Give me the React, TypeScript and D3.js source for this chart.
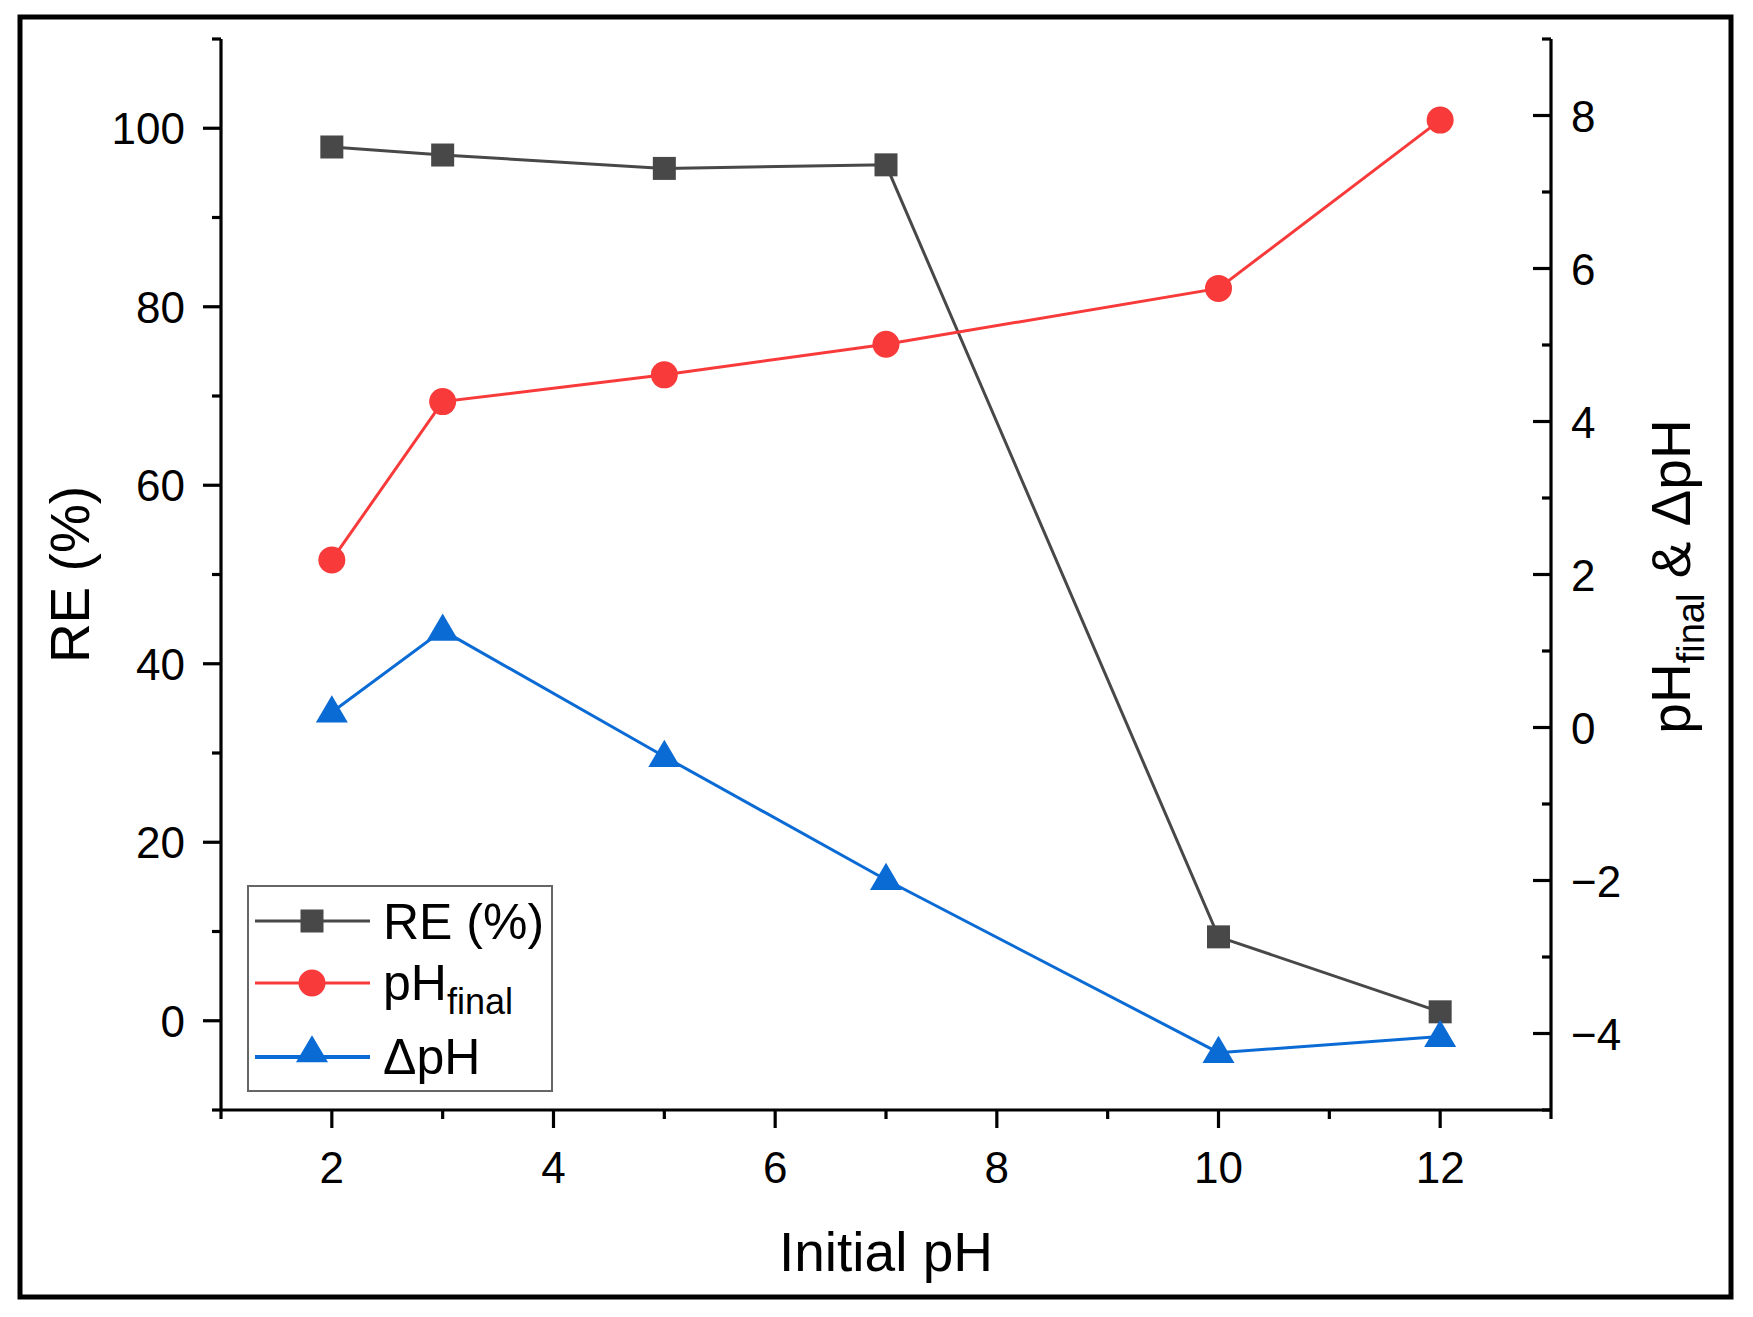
import React from "react";
import * as d3 from "d3";

const initialPH = [2, 3, 5, 7, 10, 12];
const reValues = [97.9, 97.0, 95.5, 95.9, 9.4, 1.0];
const phFinal = [2.19, 4.26, 4.61, 5.01, 5.74, 7.94];
const deltaPH = [0.2, 1.27, -0.38, -1.99, -4.25, -4.04];

const xMajor = [2, 4, 6, 8, 10, 12];
const xMinor = [1, 3, 5, 7, 9, 11, 13];
const yLeftMajor = [0, 20, 40, 60, 80, 100];
const yLeftMinor = [-10, 10, 30, 50, 70, 90, 110];
const yRightMajor = [-4, -2, 0, 2, 4, 6, 8];
const yRightMinor = [-5, -3, -1, 1, 3, 5, 7, 9];

const W = 1753;
const H = 1317;
const L = 221, R = 1551, T = 39, B = 1110;
const FONT = "'Liberation Sans', Arial, sans-serif";
const C_RE = "#484848";
const C_PH = "#f83a3a";
const C_D = "#0b6bd5";

export default function App() {
  const x = d3.scaleLinear().domain([1, 13]).range([L, R]);
  const yL = d3.scaleLinear().domain([-10, 110]).range([B, T]);
  const yR = d3.scaleLinear().domain([-5, 9]).range([B, T]);

  const lineRE = d3.line<number>().x((_, i) => x(initialPH[i])).y((d) => yL(d));
  const lineR = d3.line<number>().x((_, i) => x(initialPH[i])).y((d) => yR(d));

  const sq = 23;
  const tri = (cx: number, cy: number, s = 32) => {
    const h = s * 0.85;
    return `M${cx},${cy - h * 0.62} L${cx + s / 2},${cy + h * 0.38} L${cx - s / 2},${cy + h * 0.38} Z`;
  };

  const majLen = 18, minLen = 9, axW = 3.2;

  return (
    <svg width={W} height={H} style={{ position: "absolute", left: 0, top: 0, background: "#fff" }} fontFamily={FONT}>
      <rect x={0} y={0} width={W} height={H} fill="#fff" />
      <rect x={20} y={17} width={1711} height={1280} fill="none" stroke="#000" strokeWidth={5} />

      <line x1={L} x2={L} y1={T} y2={B} stroke="#000" strokeWidth={axW} />
      <line x1={R} x2={R} y1={T} y2={B} stroke="#000" strokeWidth={axW} />
      <line x1={L} x2={R} y1={B} y2={B} stroke="#000" strokeWidth={axW} />

      {xMajor.map((v) => (
        <g key={"xm" + v}>
          <line x1={x(v)} x2={x(v)} y1={B} y2={B + majLen} stroke="#000" strokeWidth={axW} />
          <text x={x(v)} y={1183} fontSize={44} textAnchor="middle">{v}</text>
        </g>
      ))}
      {xMinor.map((v) => (
        <line key={"xn" + v} x1={x(v)} x2={x(v)} y1={B} y2={B + minLen} stroke="#000" strokeWidth={axW} />
      ))}

      {yLeftMajor.map((v) => (
        <g key={"lm" + v}>
          <line x1={L - majLen} x2={L} y1={yL(v)} y2={yL(v)} stroke="#000" strokeWidth={axW} />
          <text x={185} y={yL(v) + 16} fontSize={44} textAnchor="end">{v}</text>
        </g>
      ))}
      {yLeftMinor.map((v) => (
        <line key={"ln" + v} x1={L - minLen} x2={L} y1={yL(v)} y2={yL(v)} stroke="#000" strokeWidth={axW} />
      ))}

      {yRightMajor.map((v) => (
        <g key={"rm" + v}>
          <line x1={R - majLen} x2={R} y1={yR(v)} y2={yR(v)} stroke="#000" strokeWidth={axW} />
          <text x={1571} y={yR(v) + 16} fontSize={44} textAnchor="start">{v < 0 ? "\u2212" + Math.abs(v) : v}</text>
        </g>
      ))}
      {yRightMinor.map((v) => (
        <line key={"rn" + v} x1={R - minLen} x2={R} y1={yR(v)} y2={yR(v)} stroke="#000" strokeWidth={axW} />
      ))}

      <text x={886} y={1271} fontSize={55} textAnchor="middle">Initial pH</text>
      <text transform={`translate(89,${(T + B) / 2}) rotate(-90)`} fontSize={55} textAnchor="middle">RE (%)</text>
      <text transform={`translate(1690,${(T + B) / 2 + 2}) rotate(-90)`} fontSize={55} textAnchor="middle">
        pH<tspan fontSize={38} dy={14}>final</tspan><tspan dy={-14}> &amp; ΔpH</tspan>
      </text>

      <path d={lineRE(reValues) || ""} fill="none" stroke={C_RE} strokeWidth={3} />
      {reValues.map((v, i) => (
        <rect key={"re" + i} x={x(initialPH[i]) - sq / 2} y={yL(v) - sq / 2} width={sq} height={sq} fill={C_RE} />
      ))}
      <path d={lineR(phFinal) || ""} fill="none" stroke={C_PH} strokeWidth={3} />
      {phFinal.map((v, i) => (
        <circle key={"ph" + i} cx={x(initialPH[i])} cy={yR(v)} r={13.5} fill={C_PH} />
      ))}
      <path d={lineR(deltaPH) || ""} fill="none" stroke={C_D} strokeWidth={3} />
      {deltaPH.map((v, i) => (
        <path key={"d" + i} d={tri(x(initialPH[i]), yR(v))} fill={C_D} />
      ))}

      <rect x={248} y={886} width={304} height={205} fill="#fff" stroke="#666" strokeWidth={2} />
      <line x1={255} x2={370} y1={921} y2={921} stroke={C_RE} strokeWidth={3} />
      <rect x={312 - sq / 2} y={921 - sq / 2} width={sq} height={sq} fill={C_RE} />
      <text x={383} y={939} fontSize={50}>RE (%)</text>
      <line x1={255} x2={370} y1={983} y2={983} stroke={C_PH} strokeWidth={3} />
      <circle cx={312} cy={983} r={13.5} fill={C_PH} />
      <text x={383} y={1000} fontSize={50}>pH<tspan fontSize={36} dy={14}>final</tspan></text>
      <line x1={255} x2={370} y1={1057} y2={1057} stroke={C_D} strokeWidth={4} />
      <path d={tri(312, 1052)} fill={C_D} />
      <text x={383} y={1074} fontSize={50}>ΔpH</text>
    </svg>
  );
}
